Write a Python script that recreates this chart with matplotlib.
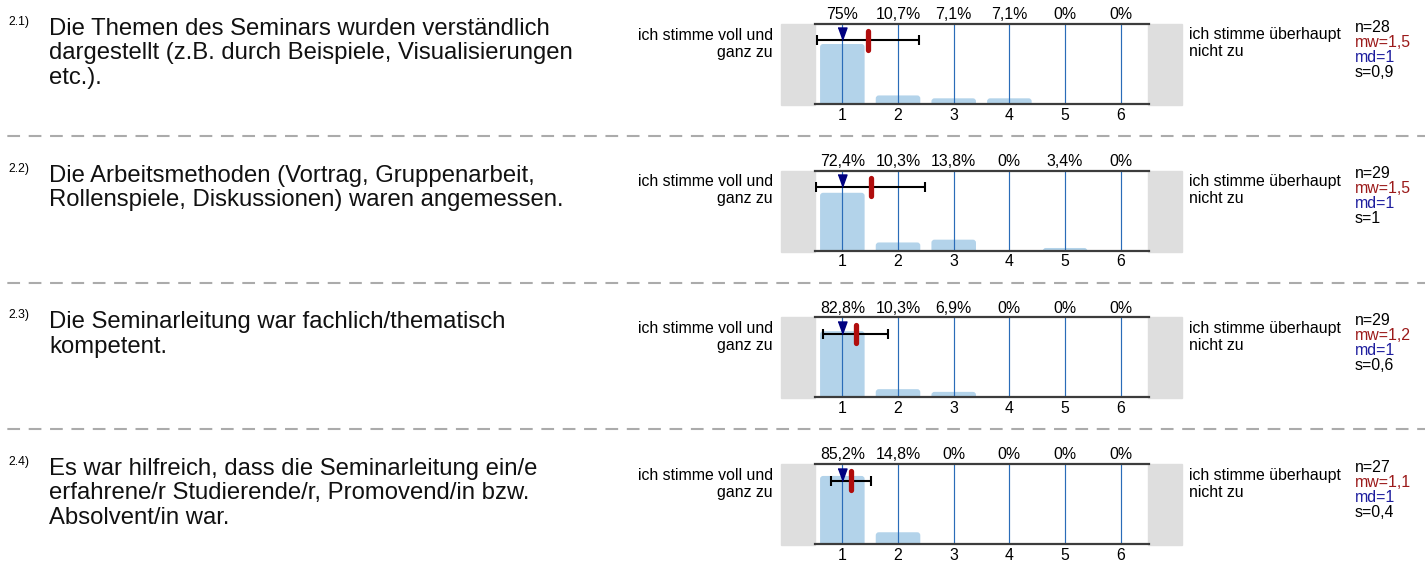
import matplotlib
matplotlib.use('Agg')
import matplotlib.pyplot as plt
from matplotlib.patches import Rectangle, FancyBboxPatch
from matplotlib.lines import Line2D

plt.rcParams['font.family'] = ['Liberation Sans', 'DejaVu Sans']
plt.rcParams['lines.scale_dashes'] = False

# ---------------- data ----------------
numbers = ['2.1)', '2.2)', '2.3)', '2.4)']
questions = [
    "Die Themen des Seminars wurden verständlich\ndargestellt (z.B. durch Beispiele, Visualisierungen\netc.).",
    "Die Arbeitsmethoden (Vortrag, Gruppenarbeit,\nRollenspiele, Diskussionen) waren angemessen.",
    "Die Seminarleitung war fachlich/thematisch\nkompetent.",
    "Es war hilfreich, dass die Seminarleitung ein/e\nerfahrene/r Studierende/r, Promovend/in bzw.\nAbsolvent/in war.",
]
categories = [1, 2, 3, 4, 5, 6]
pct_q1 = [75, 10.7, 7.1, 7.1, 0, 0]
pct_q2 = [72.4, 10.3, 13.8, 0, 3.4, 0]
pct_q3 = [82.8, 10.3, 6.9, 0, 0, 0]
pct_q4 = [85.2, 14.8, 0, 0, 0, 0]
percentages = [pct_q1, pct_q2, pct_q3, pct_q4]
n_values = [28, 29, 29, 27]
mw_values = [1.46, 1.51, 1.24, 1.148]
md_values = [1, 1, 1, 1]
s_values = [0.92, 0.98, 0.58, 0.36]
left_label = "ich stimme voll und\nganz zu"
right_label = "ich stimme überhaupt\nnicht zu"

# ---------------- style ----------------
W, H = 1425, 561
DPI = 100
SMALL = 11.4
QFONT = 17.2
SUPFONT = 8.8
ROW_STEP = 146.7
BAR_COLOR = '#b3d3ea'
VLINE_COLOR = '#2a6cb8'
SPINE_COLOR = '#3c3c3c'
GRAY_BOX = '#dedede'
MEAN_COLOR = '#b00d0d'
MEDIAN_COLOR = '#000080'
MW_TEXT = '#9b1a1a'
MD_TEXT = '#1e1e9e'
DASH_COLOR = '#ababab'

fig = plt.figure(figsize=(W / DPI, H / DPI), dpi=DPI)


def fx(px):
    return px / W


def fy(py):
    return 1 - py / H


def fmt_num(v):
    return f"{v:g}".replace('.', ',')


AX_LEFT = 814.5
AX_WIDTH = 334.1
AX_HEIGHT = 80.0
ERR_Y = 79.4

tri_marker = [(-0.36, 1.0), (0.36, 1.0), (0.0, 0.0)]

for k in range(len(questions)):
    top = 24 + k * ROW_STEP

    # question number and text
    fig.text(fx(8.3), fy(top + 1), numbers[k], fontsize=SUPFONT, va='baseline', ha='left', color='black')
    for j, line in enumerate(questions[k].split('\n')):
        fig.text(fx(49.3), fy(top + 11 + j * 24.3), line, fontsize=QFONT, va='baseline', ha='left', color='#111111')

    ax = fig.add_axes([fx(AX_LEFT), fy(top + AX_HEIGHT), AX_WIDTH / W, AX_HEIGHT / H])
    ax.set_xlim(0.5, 6.5)
    ax.set_ylim(0, 100)
    ax.set_facecolor('white')
    for side in ('left', 'right'):
        ax.spines[side].set_visible(False)
    for side in ('top', 'bottom'):
        ax.spines[side].set_color(SPINE_COLOR)
        ax.spines[side].set_linewidth(1.6)
        ax.spines[side].set_zorder(6)
    ax.set_yticks([])
    ax.set_xticks(categories)
    ax.set_xticklabels([str(c) for c in categories], fontsize=SMALL)
    ax.tick_params(axis='x', length=0, pad=2.6)

    # bars (rounded tops)
    bars = ax.bar(categories, percentages[k], width=0.8, color=BAR_COLOR, zorder=1)
    for b in bars:
        x0, w, h = b.get_x(), b.get_width(), b.get_height()
        b.set_visible(False)
        if h <= 0:
            continue
        p = FancyBboxPatch((x0, -6), w, h + 6,
                           boxstyle="round,pad=0,rounding_size=0.055",
                           mutation_aspect=69, fc=BAR_COLOR, ec='none', zorder=1)
        ax.add_patch(p)

    # vertical category lines
    ax.vlines(categories, 0, 100, color=VLINE_COLOR, lw=0.85, zorder=2)

    # percent labels
    for c, v in zip(categories, percentages[k]):
        ax.annotate(fmt_num(v) + '%', (c, 100), xytext=(0, 3.4), textcoords='offset points',
                    ha='center', va='baseline', fontsize=SMALL, annotation_clip=False)

    # error bar (mean +- s)
    ax.errorbar(mw_values[k], ERR_Y, xerr=s_values[k], fmt='none', ecolor='black',
                elinewidth=1.5, capsize=3.6, capthick=1.5, zorder=3)
    # median triangle
    ax.plot([md_values[k]], [ERR_Y], marker=tri_marker, markersize=18, color=MEDIAN_COLOR,
            linestyle='none', zorder=4)
    # mean marker
    ax.plot([mw_values[k], mw_values[k]], [ERR_Y - 11.5, ERR_Y + 11.5], color=MEAN_COLOR,
            lw=3.8, solid_capstyle='round', zorder=5)

    # gray side boxes
    ax.add_patch(Rectangle((-(AX_LEFT - 781) / AX_WIDTH, -0.0125), (AX_LEFT - 781) / AX_WIDTH, 1.0125,
                           transform=ax.transAxes, color=GRAY_BOX, clip_on=False, zorder=0))
    ax.add_patch(Rectangle(((1148 - AX_LEFT) / AX_WIDTH, -0.0125), 34 / AX_WIDTH, 1.0125,
                           transform=ax.transAxes, color=GRAY_BOX, clip_on=False, zorder=0))

    # scale end labels
    for j, line in enumerate(left_label.split('\n')):
        fig.text(fx(773), fy(top + 15.5 + j * 17), line, fontsize=SMALL, ha='right', va='baseline')
    for j, line in enumerate(right_label.split('\n')):
        fig.text(fx(1189), fy(top + 15.5 + j * 17), line, fontsize=SMALL, ha='left', va='baseline')

    # statistics
    stats = [(f"n={n_values[k]}", 'black'),
             (f"mw={fmt_num(round(mw_values[k], 1))}", MW_TEXT),
             (f"md={md_values[k]}", MD_TEXT),
             (f"s={fmt_num(round(s_values[k], 1))}", 'black')]
    for j, (t, col) in enumerate(stats):
        fig.text(fx(1355), fy(top + 7.7 + j * 15), t, fontsize=SMALL, ha='left', va='baseline', color=col)

    # dashed separator
    if k < len(questions) - 1:
        ysep = fy(136 + k * ROW_STEP)
        fig.add_artist(Line2D([0, 1], [ysep, ysep], transform=fig.transFigure, color=DASH_COLOR,
                              lw=1.5, linestyle=(10.1, (9.15, 6.23)), solid_capstyle='butt',
                              dash_capstyle='butt'))

fig.savefig('out.png', dpi=DPI)
